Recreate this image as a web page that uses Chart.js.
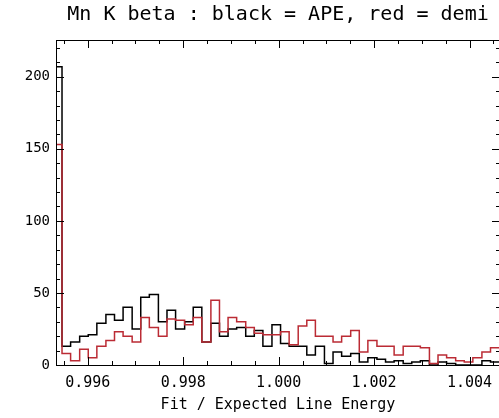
<!DOCTYPE html>
<html>
<head>
<meta charset="utf-8">
<script src="https://cdn.jsdelivr.net/npm/chart.js@4"></script>
<style>
  html, body { margin: 0; padding: 0; background: #fff; overflow: hidden; }
  #chart { display: block; }
</style>
</head>
<body>
<canvas id="chart" width="502" height="418"></canvas>
<script>
// histogram bin edges (left edge of each bin, plus the closing edge)
const binEdges = [
  0.99528, 0.99546, 0.99564, 0.99583, 0.99601, 0.99619, 0.99638, 0.99656, 0.99674, 0.99693,
  0.99711, 0.99729, 0.99748, 0.99766, 0.99784, 0.99803, 0.99821, 0.99839, 0.99858, 0.99876,
  0.99894, 0.99912, 0.99931, 0.99949, 0.99967, 0.99986, 1.00004, 1.00022, 1.00041, 1.00059,
  1.00077, 1.00096, 1.00114, 1.00132, 1.00151, 1.00169, 1.00187, 1.00206, 1.00224, 1.00242,
  1.00261, 1.00279, 1.00297, 1.00316, 1.00334, 1.00352, 1.00371, 1.00389, 1.00407, 1.00426,
  1.00444, 1.00462
];

// counts per bin: black = APE, red = demi
const apeCounts = [
  207, 13, 16, 20, 21, 29, 35, 31, 40, 25,
  47, 49, 30, 38, 25, 30, 40, 16, 29, 20,
  25, 26, 20, 24, 13, 28, 15, 13, 13, 7,
  13, 1, 9, 6, 8, 2, 5, 4, 2, 3,
  1, 2, 3, 0, 2, 1, 0, 0, 0, 3,
  2
];
const demiCounts = [
  153, 8, 3, 11, 5, 13, 17, 23, 20, 16,
  33, 26, 20, 32, 31, 28, 33, 16, 45, 23,
  33, 30, 26, 22, 21, 21, 23, 14, 27, 31,
  20, 20, 16, 20, 24, 9, 17, 13, 13, 7,
  13, 13, 12, 1, 7, 5, 3, 2, 5, 9,
  12
];

const xTicks = [0.996, 0.998, 1.000, 1.002, 1.004];
const yTicks = [0, 50, 100, 150, 200];
const xRange = [0.995334, 1.004639];
const yRange = [0, 225.5];

const titleText = 'Mn K beta : black = APE, red = demi';
const xTitle = 'Fit / Expected Line Energy';

// step outline: one point per left edge, last point on the closing edge
function toSteps(counts) {
  const pts = counts.map((c, i) => ({ x: binEdges[i], y: c }));
  pts.push({ x: binEdges[counts.length], y: counts[counts.length - 1] });
  return pts;
}

// IDL-style box with inward ticks on all four sides
const frameTicks = {
  id: 'frameTicks',
  afterDraw(chart) {
    const { ctx, chartArea: a, scales: { x, y } } = chart;
    ctx.save();
    ctx.strokeStyle = '#000';
    ctx.lineWidth = 1;
    ctx.strokeRect(a.left + 0.5, a.top + 0.5, a.right - a.left, a.bottom - a.top);
    ctx.beginPath();
    const xStep = 0.0005;
    for (let i = Math.ceil(x.min / xStep); i * xStep <= x.max; i++) {
      const px = Math.round(x.getPixelForValue(i * xStep)) + 0.5;
      const len = (i % 4 === 0) ? 8 : 4;
      ctx.moveTo(px, a.bottom); ctx.lineTo(px, a.bottom - len);
      ctx.moveTo(px, a.top); ctx.lineTo(px, a.top + len);
    }
    for (let v = 0; v <= y.max; v += 10) {
      const py = Math.round(y.getPixelForValue(v)) + 0.5;
      const len = (v % 50 === 0) ? 8 : 4;
      ctx.moveTo(a.left, py); ctx.lineTo(a.left + len, py);
      ctx.moveTo(a.right, py); ctx.lineTo(a.right - len, py);
    }
    ctx.stroke();
    ctx.restore();
  }
};

const mono = 'DejaVu Sans Mono';

new Chart(document.getElementById('chart'), {
  type: 'line',
  data: {
    datasets: [
      {
        label: 'APE',
        data: toSteps(apeCounts),
        borderColor: '#000000',
        borderWidth: 1.5,
        stepped: true,
        pointRadius: 0,
        order: 1
      },
      {
        label: 'demi',
        data: toSteps(demiCounts),
        borderColor: '#bb2b34',
        borderWidth: 1.5,
        stepped: true,
        pointRadius: 0,
        order: 0
      }
    ]
  },
  options: {
    responsive: false,
    animation: false,
    layout: { padding: { left: 0, right: 2, top: 0, bottom: 0 } },
    plugins: {
      legend: { display: false },
      tooltip: { enabled: false }
    },
    scales: {
      x: {
        type: 'linear',
        min: xRange[0],
        max: xRange[1],
        afterBuildTicks: s => { s.ticks = xTicks.map(v => ({ value: v })); },
        afterFit: s => { s.height = 53; },
        grid: { display: false, drawTicks: false },
        border: { display: false },
        ticks: {
          color: '#000',
          font: { family: mono, size: 15 },
          padding: 9,
          maxRotation: 0,
          callback: v => v.toFixed(3)
        },
        title: {
          display: true,
          text: xTitle,
          color: '#000',
          font: { family: mono, size: 15 },
          padding: { top: 0, bottom: 4 }
        }
      },
      // top axis only carries the plot title, centred over the plot box
      top: {
        type: 'linear',
        position: 'top',
        min: xRange[0],
        max: xRange[1],
        afterBuildTicks: s => { s.ticks = []; },
        afterFit: s => { s.height = 40; },
        grid: { display: false, drawTicks: false },
        border: { display: false },
        ticks: { display: false },
        title: {
          display: true,
          text: titleText,
          color: '#000',
          font: { family: mono, size: 20 },
          padding: { top: 3, bottom: 0 }
        }
      },
      y: {
        type: 'linear',
        min: yRange[0],
        max: yRange[1],
        afterBuildTicks: s => { s.ticks = yTicks.map(v => ({ value: v })); },
        afterFit: s => { s.width = 56; },
        grid: { display: false, drawTicks: false },
        border: { display: false },
        ticks: { color: '#000', font: { family: mono, size: 14 }, padding: 6 }
      }
    }
  },
  plugins: [frameTicks]
});
</script>
</body>
</html>
